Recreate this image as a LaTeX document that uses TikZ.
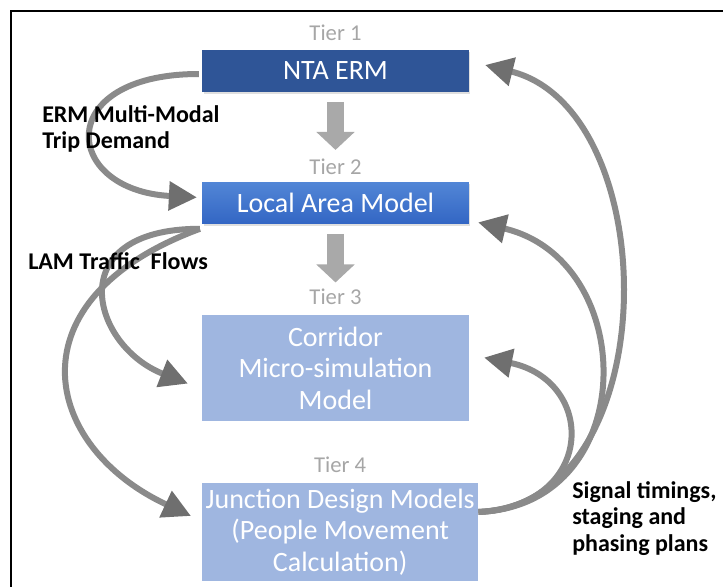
\documentclass[tikz,border=0pt]{standalone}
\usepackage{fontspec}
\setmainfont{Carlito}
\usepackage{xcolor}
\usepackage{tikz}
\usetikzlibrary{arrows.meta,positioning,calc,shadows}
\definecolor{tmnavy}{HTML}{2F5597}
\definecolor{tmtop}{HTML}{5286D6}
\definecolor{tmbot}{HTML}{3366C4}
\definecolor{tmlight}{HTML}{9FB6E0}
\definecolor{tmtier}{HTML}{A6A6A6}
\definecolor{tmblock}{HTML}{A9A9A9}
\definecolor{tmflow}{HTML}{8A8A8A}
\definecolor{tmhead}{HTML}{6F6F6F}

\begin{document}
\begin{tikzpicture}[x=0.75pt,y=0.75pt,
      box/.style={draw=none,minimum width=200pt,minimum height=31pt,align=center,
                  text=white,font=\fontsize{21}{23.5}\selectfont,inner sep=2pt},
      shade box/.style={drop shadow={opacity=0.25,shadow xshift=1pt,shadow yshift=-1.5pt}},
      tier/.style={text=tmtier,font=\fontsize{17}{20}\selectfont,inner sep=0pt},
      notetext/.style={align=left,font=\fontsize{18}{20}\selectfont\bfseries,
                       inner sep=0pt,anchor=north west},
      blockarr/.style={-{Triangle[width=28pt,length=13.5pt]},line width=12.75pt,tmblock},
      flowarr/.style={-{Triangle[width=21pt,length=21pt,color=tmhead]},line width=4.5pt,tmflow}]
    \useasboundingbox (0,0) rectangle (723,-586);
    \draw[line width=1.2pt] (11,-600) |- (740,-11);
    % the four tiers
    \node[box,shade box,fill=tmnavy] (nta) at (335.5,-71) {NTA ERM};
    \node[box,shade box,top color=tmtop,bottom color=tmbot,below=67.5pt of nta] (lam)
      {Local Area Model};
    \node[box,fill=tmlight,minimum height=80pt,below=68pt of lam] (cor)
      {Corridor\\Micro-simulation\\Model};
    \node[box,fill=tmlight,minimum width=207pt,minimum height=73.5pt,
          below=45.75pt of cor.south west,anchor=north west] (jun)
      {Junction Design Models\\(People Movement\\Calculation)};
    \node[tier,above=7pt of nta] (t1) {Tier 1};
    \node[tier,above=5pt of lam] (t2) {Tier 2};
    \node[tier,above=7pt of cor] (t3) {Tier 3};
    \node[tier,above=7.5pt of jun] (t4) {Tier 4};
    \draw[blockarr,shorten <=7.5pt,shorten >=24pt] (nta) -- (lam);
    \draw[blockarr,shorten <=7.5pt,shorten >=24pt] (lam) -- (cor);
    % flows down the tiers
    \draw[flowarr] ($(nta.west)+(-3,-3)$) .. controls +(-147,0) and +(-135,7) ..
      ($(lam.west)+(-5,5.5)$);
    \draw[flowarr] ($(lam.south west)+(-2,-5)$) .. controls +(-140,0) and +(-97,38) ..
      ($(cor.west)+(-14,-15.5)$);
    \draw[flowarr] ($(lam.south west)+(-2,-5)$) .. controls +(-190,-70) and +(-150,70) ..
      ($(jun.west)+(-11,16)$);
    % feedback up the tiers
    \draw[flowarr] ($(jun.east)+(0,20)$) .. controls +(189,6) and +(181,-45) ..
      ($(nta.east)+(16,6)$);
    \draw[flowarr] ($(jun.east)+(0,20)$) .. controls +(163,6) and +(162,-38) ..
      ($(lam.east)+(9,-19.5)$);
    \draw[flowarr] ($(jun.east)+(0,20)$) .. controls +(118,6) and +(113,-23) ..
      ($(cor.east)+(15,10.5)$);
    % labels
    \node[notetext] (erm) at (42,-105) {ERM Multi-Modal\\Trip Demand};
    \node[notetext] (flows) at (28,-252) {LAM Traffic~ Flows};
    \node[notetext] (signal) at (572,-481) {Signal timings,\\staging and\\phasing plans};
  \end{tikzpicture}
\end{document}
